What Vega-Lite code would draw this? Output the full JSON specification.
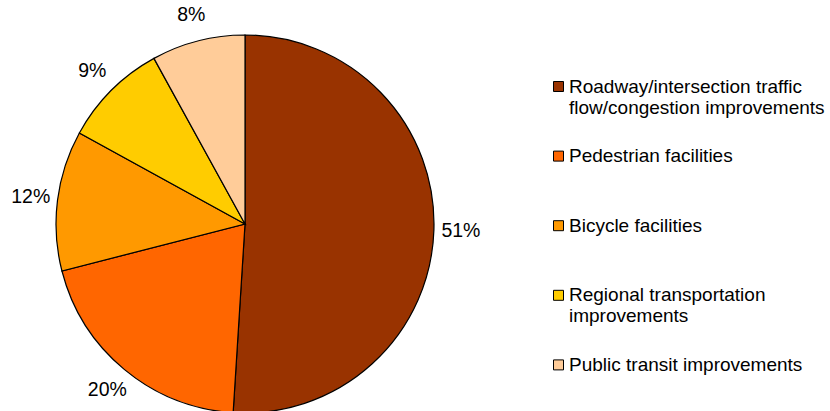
{
  "$schema": "https://vega.github.io/schema/vega-lite/v6.json",
  "width": 490,
  "height": 448,
  "autosize": {"type": "none"},
  "padding": {"left": 0, "top": 0, "right": 340, "bottom": -37},
  "background": "white",
  "config": {"view": {"stroke": null}, "font": "Liberation Sans"},
  "data": {
    "values": [
      {"category": "Roadway/intersection traffic flow/congestion improvements", "share": 0.51, "idx": 1},
      {"category": "Pedestrian facilities", "share": 0.20, "idx": 2},
      {"category": "Bicycle facilities", "share": 0.12, "idx": 3},
      {"category": "Regional transportation improvements", "share": 0.09, "idx": 4},
      {"category": "Public transit improvements", "share": 0.08, "idx": 5}
    ]
  },
  "encoding": {
    "theta": {"field": "share", "type": "quantitative", "stack": true},
    "order": {"field": "idx", "type": "quantitative"}
  },
  "layer": [
    {
      "mark": {"type": "arc", "radius": 189, "stroke": "black", "strokeWidth": 1.2},
      "encoding": {
        "color": {
          "field": "category",
          "type": "nominal",
          "sort": ["Roadway/intersection traffic flow/congestion improvements", "Pedestrian facilities", "Bicycle facilities", "Regional transportation improvements", "Public transit improvements"],
          "scale": {
            "domain": ["Roadway/intersection traffic flow/congestion improvements", "Pedestrian facilities", "Bicycle facilities", "Regional transportation improvements", "Public transit improvements"],
            "range": ["#993300", "#FF6600", "#FF9900", "#FFCC00", "#FFCC99"]
          },
          "legend": {
            "title": null,
            "orient": "none",
            "legendX": 549,
            "legendY": 77,
            "symbolType": "square",
            "symbolSize": 100,
            "symbolStrokeColor": "black",
            "symbolStrokeWidth": 1,
            "labelFontSize": 19,
            "labelFont": "Liberation Sans",
            "labelColor": "black",
            "labelLimit": 400,
            "labelOffset": 1,
            "rowPadding": 28.6,
            "labelExpr": "datum.label == 'Roadway/intersection traffic flow/congestion improvements' ? ['Roadway/intersection traffic', 'flow/congestion improvements'] : datum.label == 'Regional transportation improvements' ? ['Regional transportation', 'improvements'] : [datum.label, '']"
          }
        }
      }
    },
    {
      "mark": {"type": "text", "radius": 216, "fontSize": 19.5, "font": "Liberation Sans", "color": "black"},
      "encoding": {
        "text": {"field": "share", "type": "quantitative", "format": ".0%"}
      }
    }
  ]
}
